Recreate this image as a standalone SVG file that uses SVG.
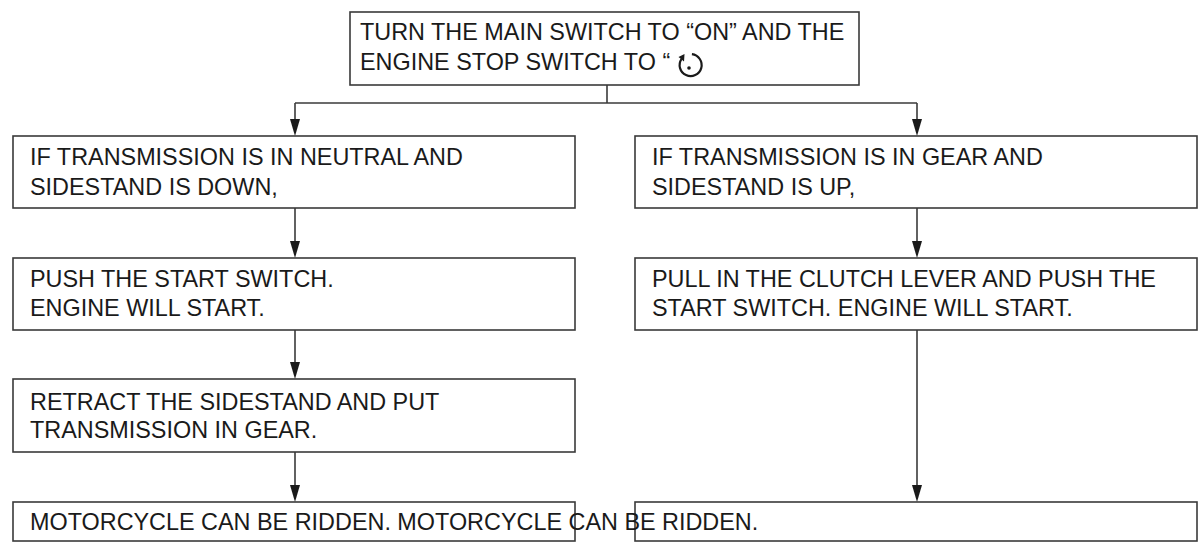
<svg xmlns="http://www.w3.org/2000/svg" width="1203" height="548" viewBox="0 0 1203 548">
<style>
.box{fill:#fff;stroke:#3a3a3a;stroke-width:1.6}
.t{font-family:"Liberation Sans",Arial,sans-serif;font-size:23.4px;fill:#1a1a1a}
.c{fill:none;stroke:#3a3a3a;stroke-width:1.6}
.ah{fill:#1a1a1a}
</style>
<rect width="1203" height="548" fill="#fff"/>
<g id="connectors">
<path class="c" d="M607,85 V103"/>
<path class="c" d="M295,103 H917"/>
<line class="c" x1="295" y1="103" x2="295" y2="130"/>
<line class="c" x1="917" y1="103" x2="917" y2="130"/>
<line class="c" x1="295" y1="208" x2="295" y2="252"/>
<line class="c" x1="917" y1="208" x2="917" y2="252"/>
<line class="c" x1="295" y1="330" x2="295" y2="373"/>
<line class="c" x1="295" y1="452" x2="295" y2="496"/>
<line class="c" x1="917" y1="330" x2="917" y2="496"/>
<path class="ah" d="M290,119 L300,119 L295,136 Z"/>
<path class="ah" d="M912,119 L922,119 L917,136 Z"/>
<path class="ah" d="M290,241 L300,241 L295,258 Z"/>
<path class="ah" d="M912,241 L922,241 L917,258 Z"/>
<path class="ah" d="M290,362 L300,362 L295,379 Z"/>
<path class="ah" d="M290,485 L300,485 L295,502 Z"/>
<path class="ah" d="M912,485 L922,485 L917,502 Z"/>
</g>
<g id="start">
<rect class="box" x="350" y="12" width="509" height="73"/>
<text class="t" x="360" y="40">TURN THE MAIN SWITCH TO “ON” AND THE</text>
<text class="t" x="360" y="70">ENGINE STOP SWITCH TO “</text>
<path d="M691.9,54.2 A11,11 0 1 1 681.5,59" fill="none" stroke="#1a1a1a" stroke-width="2.2"/>
<path d="M684.5,54 L678.5,57 L684,61.5 Z" fill="#1a1a1a"/>
<circle cx="689" cy="68" r="1.8" fill="#1a1a1a"/>
</g>
<g id="neutral">
<rect class="box" x="13" y="136" width="562" height="72"/>
<text class="t" x="30" y="165">IF TRANSMISSION IS IN NEUTRAL AND</text>
<text class="t" x="30" y="195">SIDESTAND IS DOWN,</text>
</g>
<g id="ingear">
<rect class="box" x="635" y="136" width="562" height="72"/>
<text class="t" x="652" y="165">IF TRANSMISSION IS IN GEAR AND</text>
<text class="t" x="652" y="195">SIDESTAND IS UP,</text>
</g>
<g id="push">
<rect class="box" x="13" y="258" width="562" height="72"/>
<text class="t" x="30" y="287">PUSH THE START SWITCH.</text>
<text class="t" x="30" y="316">ENGINE WILL START.</text>
</g>
<g id="clutch">
<rect class="box" x="635" y="258" width="562" height="72"/>
<text class="t" x="652" y="287">PULL IN THE CLUTCH LEVER AND PUSH THE</text>
<text class="t" x="652" y="316">START SWITCH. ENGINE WILL START.</text>
</g>
<g id="retract">
<rect class="box" x="13" y="379" width="562" height="73"/>
<text class="t" x="30" y="410">RETRACT THE SIDESTAND AND PUT</text>
<text class="t" x="30" y="438">TRANSMISSION IN GEAR.</text>
</g>
<g id="ridden-right">
<rect class="box" x="635" y="502" width="562" height="39"/>
</g>
<g id="ridden-left">
<rect class="box" x="13" y="502" width="562" height="39" style="fill:none"/>
<text class="t" x="30" y="530">MOTORCYCLE CAN BE RIDDEN. MOTORCYCLE CAN BE RIDDEN.</text>
</g>
</svg>
